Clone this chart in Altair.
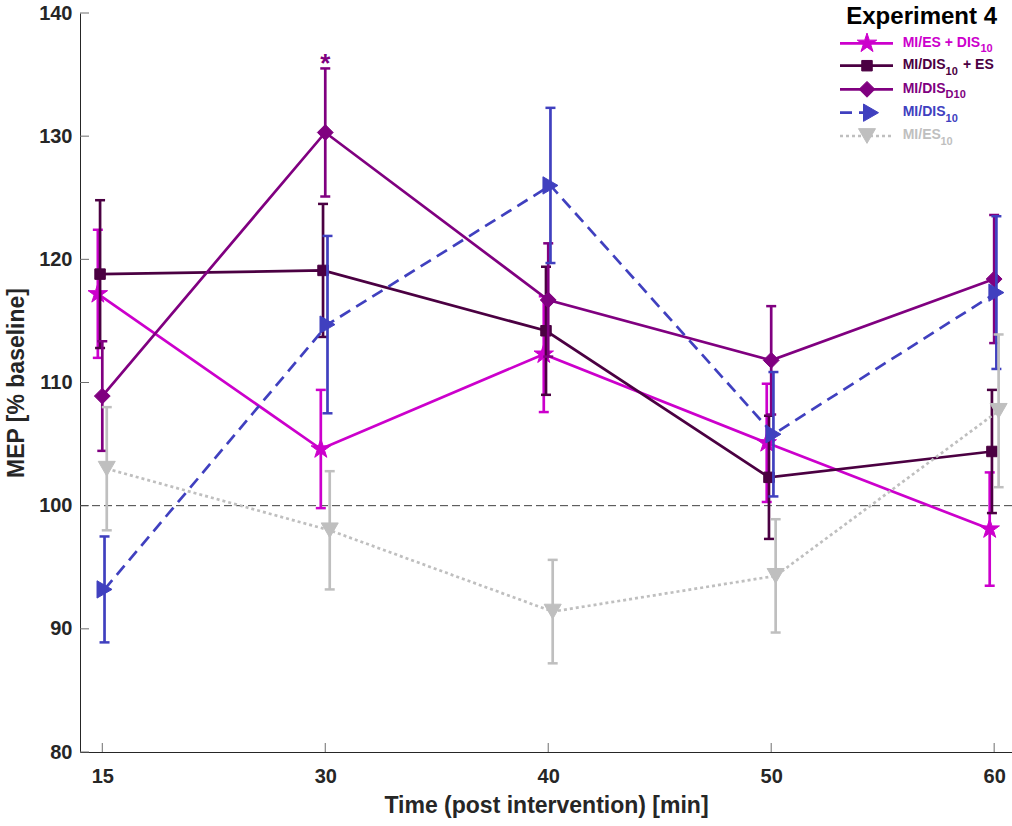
import altair as alt
import pandas as pd

# ---- data -----------------------------------------------------------------
time_labels = ["15", "30", "40", "50", "60"]
positions = [1, 2, 3, 4, 5]

mean_es_dis = [117.2, 104.6, 112.3, 105.1, 98.1]
err_es_dis = [5.2, 4.8, 4.7, 4.8, 4.6]

mean_dis_es = [118.8, 119.1, 114.2, 102.3, 104.4]
err_dis_es = [6.0, 5.4, 5.2, 5.0, 5.0]

mean_dis_d10 = [108.9, 130.3, 116.7, 111.8, 118.4]
err_dis_d10 = [4.45, 5.2, 4.6, 4.4, 5.2]

mean_dis10 = [93.2, 114.7, 126.0, 105.8, 117.3]
err_dis10 = [4.3, 7.2, 6.3, 5.05, 6.2]

mean_es10 = [103.0, 98.0, 91.4, 94.3, 107.7]
err_es10 = [5.0, 4.8, 4.2, 4.6, 6.2]

y_ticks = [80, 90, 100, 110, 120, 130, 140]
baseline_level = [100]
significant_idx = 1  # 30 min, MI/DIS_D10

# ---- style ----------------------------------------------------------------
FONT = "Liberation Sans"
AXIS_COLOR = "#262626"
W, H = 932, 739

STAR = ("M0,-1L0.225,-0.309L0.951,-0.309L0.363,0.118L0.588,0.809L0,0.382"
        "L-0.588,0.809L-0.363,0.118L-0.951,-0.309L-0.225,-0.309Z")

series = [
    dict(main="MI/ES + DIS", sub="10", tail="", mean=mean_es_dis, err=err_es_dis,
         color="#CC00CC", shape=STAR, size=420, dash=None, offset=-0.02,
         sub_x=900.5, tail_x=None, mark_x=787),
    dict(main="MI/DIS", sub="10", tail="+ ES", mean=mean_dis_es, err=err_dis_es,
         color="#4B0042", shape="square", size=110, dash=None, offset=-0.01,
         sub_x=865.6, tail_x=883.0, mark_x=787),
    dict(main="MI/DIS", sub="D10", tail="", mean=mean_dis_d10, err=err_dis_d10,
         color="#800080", shape="diamond", size=250, dash=None, offset=0.0,
         sub_x=865.6, tail_x=None, mark_x=787),
    dict(main="MI/DIS", sub="10", tail="", mean=mean_dis10, err=err_dis10,
         color="#4040BF", shape="triangle-right", size=300, dash=[12, 7], offset=0.01,
         sub_x=865.6, tail_x=None, mark_x=791),
    dict(main="MI/ES", sub="10", tail="", mean=mean_es10, err=err_es10,
         color="#BFBFBF", shape="triangle-down", size=290, dash=[3, 3], offset=0.02,
         sub_x=860.5, tail_x=None, mark_x=787),
]

x_scale = alt.Scale(domain=[0.9, 5.08], nice=False, zero=False)
y_scale = alt.Scale(domain=[80, 140], nice=False, zero=False)

label_expr = "[" + ",".join(["''"] + [f"'{t}'" for t in time_labels]) + "][datum.value]"

x_axis = alt.Axis(
    values=positions, labelExpr=label_expr, title="Time (post intervention) [min]",
    labelFont=FONT, labelFontSize=20, labelFontWeight="bold", labelColor=AXIS_COLOR,
    labelPadding=14, labelFlush=False, ticks=False, tickSize=0, grid=False,
    domainColor=AXIS_COLOR, domainWidth=1,
    titleFont=FONT, titleFontSize=23, titleFontWeight="bold", titleColor=AXIS_COLOR,
    titlePadding=8,
)
y_axis = alt.Axis(
    values=y_ticks, format="d", title="MEP [% baseline]",
    labelFont=FONT, labelFontSize=20, labelFontWeight="bold", labelColor=AXIS_COLOR,
    labelPadding=8, labelFlush=False, ticks=False, tickSize=0, grid=False,
    domainColor=AXIS_COLOR, domainWidth=1,
    titleFont=FONT, titleFontSize=23, titleFontWeight="bold", titleColor=AXIS_COLOR,
    titlePadding=10,
)


def X(field):
    return alt.X(field, scale=x_scale, axis=x_axis)


def Y(field):
    return alt.Y(field, scale=y_scale, axis=y_axis)


layers = []

# inward tick marks on both axes
layers.append(
    alt.Chart(pd.DataFrame({"v": y_ticks}))
    .mark_rule(color="#6e6e6e", strokeWidth=1)
    .encode(y=Y("v:Q"), x=alt.value(0), x2=alt.value(9))
)
layers.append(
    alt.Chart(pd.DataFrame({"p": positions}))
    .mark_rule(color="#6e6e6e", strokeWidth=1)
    .encode(x=X("p:Q"), y=alt.value(H - 9), y2=alt.value(H))
)

# baseline reference
layers.append(
    alt.Chart(pd.DataFrame({"v": baseline_level}))
    .mark_rule(color="#404040", strokeWidth=1, strokeDash=[8, 4])
    .encode(y=Y("v:Q"))
)

# data series: line, error bars with caps, markers
for s in series:
    df = pd.DataFrame({
        "pos": [p + s["offset"] for p in positions],
        "mean": s["mean"],
        "lo": [m - e for m, e in zip(s["mean"], s["err"])],
        "hi": [m + e for m, e in zip(s["mean"], s["err"])],
    })
    base = alt.Chart(df)
    line_kw = dict(color=s["color"], strokeWidth=2.7)
    if s["dash"]:
        line_kw["strokeDash"] = s["dash"]
    layers.append(base.mark_line(**line_kw).encode(x=X("pos:Q"), y=Y("mean:Q")))
    layers.append(base.mark_rule(color=s["color"], strokeWidth=2.7).encode(
        x=X("pos:Q"), y=Y("lo:Q"), y2="hi:Q"))
    for end in ["lo", "hi"]:
        layers.append(base.mark_tick(orient="horizontal", size=10, thickness=2.5,
                                     color=s["color"], opacity=1).encode(
            x=X("pos:Q"), y=Y(f"{end}:Q")))
    layers.append(base.mark_point(shape=s["shape"], size=s["size"], filled=True,
                                  fill=s["color"], stroke=s["color"], strokeWidth=1,
                                  opacity=1).encode(x=X("pos:Q"), y=Y("mean:Q")))

# significance marker
sig = series[2]
layers.append(
    alt.Chart(pd.DataFrame({
        "pos": [positions[significant_idx] + sig["offset"]],
        "y": [sig["mean"][significant_idx] + sig["err"][significant_idx]],
        "t": ["*"],
    }))
    .mark_text(font=FONT, fontSize=26, fontWeight="bold", color=sig["color"],
               baseline="alphabetic", dy=4)
    .encode(x=X("pos:Q"), y=Y("y:Q"), text="t:N")
)

# legend
one = pd.DataFrame({"k": [0]})
layers.append(
    alt.Chart(one).mark_text(font=FONT, fontSize=24, fontWeight="bold", color="black",
                             align="right", baseline="alphabetic")
    .encode(x=alt.value(917), y=alt.value(10.5), text=alt.value("Experiment 4"))
)
row_y = [30.3, 52.7, 76.3, 99.7, 123.0]
for s, yc in zip(series, row_y):
    lk = dict(color=s["color"], strokeWidth=2.7)
    x_end = 813
    if s["dash"]:
        lk["strokeDash"] = s["dash"]
        if s["dash"][0] > 5:
            x_end = 796
    layers.append(alt.Chart(one).mark_rule(**lk).encode(
        x=alt.value(760), x2=alt.value(x_end), y=alt.value(yc)))
    layers.append(alt.Chart(one).mark_point(shape=s["shape"], size=s["size"], filled=True,
                                            fill=s["color"], stroke=s["color"],
                                            strokeWidth=1, opacity=1).encode(
        x=alt.value(s["mark_x"]), y=alt.value(yc)))
    tk = dict(font=FONT, fontWeight="bold", color=s["color"], align="left",
              baseline="alphabetic")
    layers.append(alt.Chart(one).mark_text(fontSize=14, **tk).encode(
        x=alt.value(822.7), y=alt.value(yc + 3.4), text=alt.value(s["main"])))
    layers.append(alt.Chart(one).mark_text(fontSize=11, **tk).encode(
        x=alt.value(s["sub_x"]), y=alt.value(yc + 8.8), text=alt.value(s["sub"])))
    if s["tail"]:
        layers.append(alt.Chart(one).mark_text(fontSize=14, **tk).encode(
            x=alt.value(s["tail_x"]), y=alt.value(yc + 3.4), text=alt.value(s["tail"])))

chart = (
    alt.layer(*layers)
    .properties(width=W, height=H,
                padding={"left": 80, "top": 13, "right": 0, "bottom": 70},
                autosize=alt.AutoSizeParams(type="none"),
                background="white")
    .configure_view(stroke=None)
)

chart.save("out.html", embed_options={"renderer": "svg", "actions": False})
